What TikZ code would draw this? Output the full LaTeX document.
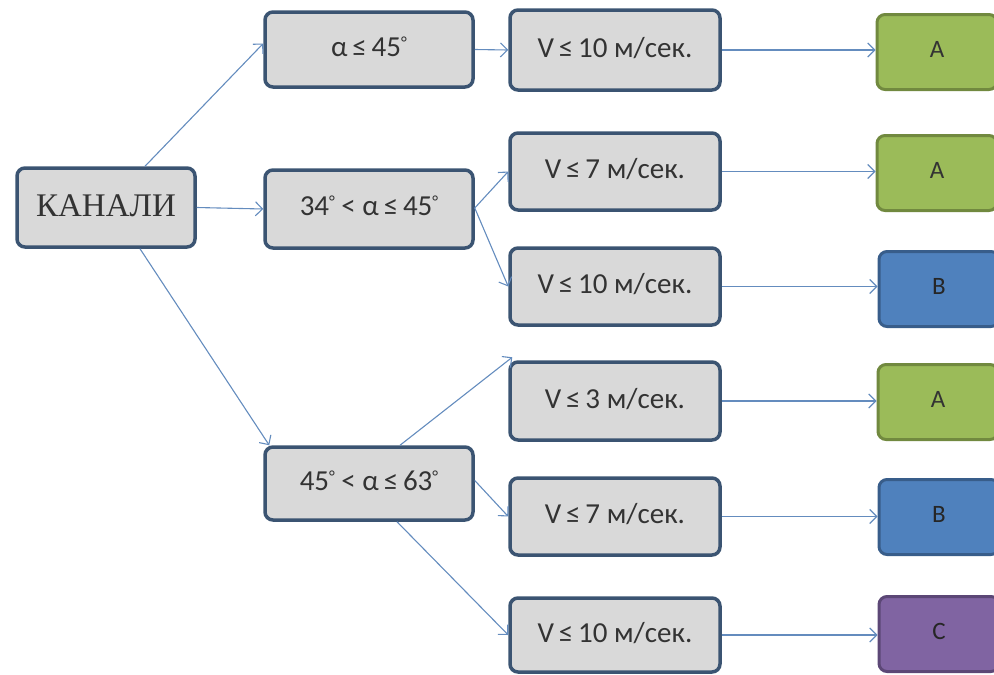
\documentclass[tikz,border=0pt]{standalone}
\usepackage{fontspec}
\setmainfont{Carlito}
\newfontfamily\kanfont{Liberation Serif}
\usetikzlibrary{arrows.meta}
\definecolor{boxfill}{RGB}{217,217,217}
\definecolor{boxline}{RGB}{59,84,114}
\definecolor{greenfill}{RGB}{155,187,89}
\definecolor{greenline}{RGB}{113,137,63}
\definecolor{bluefill}{RGB}{79,129,189}
\definecolor{blueline}{RGB}{56,93,138}
\definecolor{purplefill}{RGB}{128,100,162}
\definecolor{purpleline}{RGB}{92,71,118}
\definecolor{arrowcol}{RGB}{100,140,190}
\tikzset{
  gbox/.style={rectangle, rounded corners=8pt, draw=boxline, line width=3.5pt, fill=boxfill,
    inner sep=0pt, font=\fontsize{29}{33}\selectfont, text=black!80},
  resbox/.style={rectangle, rounded corners=8pt, line width=3pt, inner sep=0pt,
    minimum width=120pt, minimum height=75pt, font=\fontsize{25}{29}\selectfont},
  resA/.style={resbox, draw=greenline, fill=greenfill, text=black!80},
  resB/.style={resbox, draw=blueline, fill=bluefill, text=black!85},
  resC/.style={resbox, draw=purpleline, fill=purplefill, text=black!85},
  conn/.style={draw=arrowcol, line width=1.1pt, -{Straight Barb[length=7pt,width=14pt,line width=1.1pt]}}
}
\newcommand{\up}[1]{\raisebox{6pt}{#1}}
\newcommand{\myle}{\,≤\,}
\newcommand{\mydeg}{\raisebox{8pt}{\fontsize{17}{17}\selectfont°}}
\begin{document}
\begin{tikzpicture}[x=1pt,y=-1pt]
\useasboundingbox (0,0) rectangle (994,675);
\begin{scope}
\clip (0,0) rectangle (994,675);
% first column
\node[gbox, minimum width=178pt, minimum height=79pt, font=\kanfont\fontsize{33}{37}\selectfont] (kan) at (106,207.5) {\raisebox{4pt}{КАНАЛИ}};
% second column
\node[gbox, minimum width=208pt, minimum height=75pt] (a1) at (369,49.5) {\up{α\myle45\mydeg}};
\node[gbox, minimum width=208pt, minimum height=78pt] (a2) at (369,209) {\up{34\mydeg{} < α\myle45\mydeg}};
\node[gbox, minimum width=208pt, minimum height=73pt] (a3) at (369,483.5) {\up{45\mydeg{} < α\myle63\mydeg}};
% third column
\node[gbox, minimum width=210pt, minimum height=80pt] (v1) at (615,50) {\up{V\myle10 м/сек.}};
\node[gbox, minimum width=210pt, minimum height=77pt] (v2) at (615,171.5) {\up{V\myle7 м/сек.}};
\node[gbox, minimum width=210pt, minimum height=77pt] (v3) at (615,286.5) {\up{V\myle10 м/сек.}};
\node[gbox, minimum width=210pt, minimum height=78pt] (v4) at (615,401) {\up{V\myle3 м/сек.}};
\node[gbox, minimum width=210pt, minimum height=77pt] (v5) at (615,516.5) {\up{V\myle7 м/сек.}};
\node[gbox, minimum width=210pt, minimum height=74pt] (v6) at (615,635) {\up{V\myle10 м/сек.}};
% results
\node[resA] (r1) at (937,52) {\up{A}};
\node[resA] (r2) at (937,173) {\up{A}};
\node[resB] (r3) at (939,289) {\up{B}};
\node[resA] (r4) at (938,402) {\up{A}};
\node[resB] (r5) at (939,517) {\up{B}};
\node[resC] (r6) at (939,634) {\up{C}};
% connectors
\draw[conn] ([xshift=39pt]kan.north) -- ([yshift=6pt]a1.west);
\draw[conn] (kan.east) -- (a2.west);
\draw[conn] ([xshift=34pt]kan.south) -- ([xshift=6pt]a3.north west);
\draw[conn] (a1.east) -- (v1.west);
\draw[conn] ([yshift=1pt]a2.east) -- (v2.west);
\draw[conn] ([yshift=1pt]a2.east) -- (v3.west);
\draw[conn] ([xshift=31pt]a3.north) -- ([xshift=4pt,yshift=3pt]v4.north west);
\draw[conn] ([yshift=3pt]a3.east) -- (v5.west);
\draw[conn] ([xshift=28pt]a3.south) -- (v6.west);
\draw[conn] (v1.east) -- (v1.east -| r1.west);
\draw[conn] (v2.east) -- (v2.east -| r2.west);
\draw[conn] (v3.east) -- (v3.east -| r3.west);
\draw[conn] (v4.east) -- (v4.east -| r4.west);
\draw[conn] (v5.east) -- (v5.east -| r5.west);
\draw[conn] (v6.east) -- (v6.east -| r6.west);
\end{scope}
\end{tikzpicture}
\end{document}
